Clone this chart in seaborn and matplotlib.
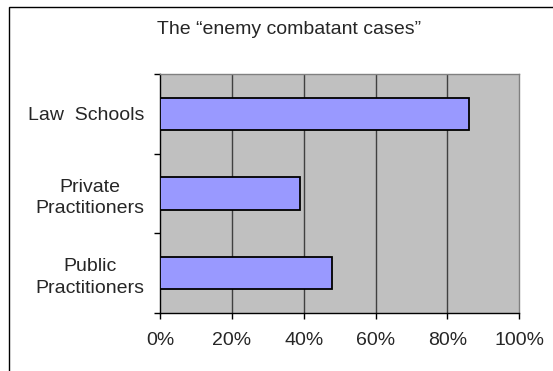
import seaborn as sns
import matplotlib.pyplot as plt
import matplotlib.ticker as mticker
from matplotlib.patches import Rectangle
import pandas as pd

categories = ['Law  Schools', 'Private\nPractitioners', 'Public\nPractitioners']
shares = [0.86, 0.39, 0.48]
xticks = [0.0, 0.2, 0.4, 0.6, 0.8, 1.0]
title = 'The \u201cenemy combatant cases\u201d'

sns.set_style('white')
plt.rcParams['font.family'] = ['Liberation Sans', 'DejaVu Sans']

df = pd.DataFrame({'group': categories, 'share': shares})

fig = plt.figure(figsize=(5.53, 3.71), dpi=100)
ax = fig.add_axes([160 / 553, 1 - 313 / 371, 359.3 / 553, 239 / 371])
ax.set_facecolor('#c0c0c0')

sns.barplot(data=df, x='share', y='group', orient='h', color='#9999ff',
            saturation=1, width=0.41, edgecolor='black', linewidth=1.3, ax=ax, zorder=3)

ax.set_xlim(0, 1)
ax.set_ylim(2.5, -0.5)
ax.set_xticks(xticks)
ax.xaxis.set_major_formatter(mticker.PercentFormatter(1.0, decimals=0))
for v in xticks[1:-1]:
    ax.axvline(v, color='#404040', lw=1, zorder=1)

ax.set_yticks([-0.5, 0.5, 1.5, 2.5], minor=True)
ax.tick_params(axis='y', which='minor', left=True, length=4, width=1, color='black')
ax.tick_params(axis='y', which='major', left=False, length=0, pad=11, labelsize=14)
for lab in ax.get_yticklabels():
    lab.set_multialignment('center')
    lab.set_linespacing(1.35)
ax.tick_params(axis='x', which='major', bottom=True, length=4, width=1, color='black',
               pad=10, labelsize=14)
ax.set_xlabel(None)
ax.set_ylabel(None)

for side in ['left', 'bottom']:
    ax.spines[side].set_color('black')
    ax.spines[side].set_linewidth(1)
for side in ['top', 'right']:
    ax.spines[side].set_color('#808080')
    ax.spines[side].set_linewidth(1)

fig.text(289 / 553, 1 - 29 / 371, title, ha='center', va='center', fontsize=14)

border = Rectangle((9 / 553, -0.1), 1.2, 1 - 7 / 371 + 0.1, transform=fig.transFigure,
                   fill=False, edgecolor='black', linewidth=1, clip_on=False)
fig.patches.append(border)

fig.savefig('out.png', dpi=100)
